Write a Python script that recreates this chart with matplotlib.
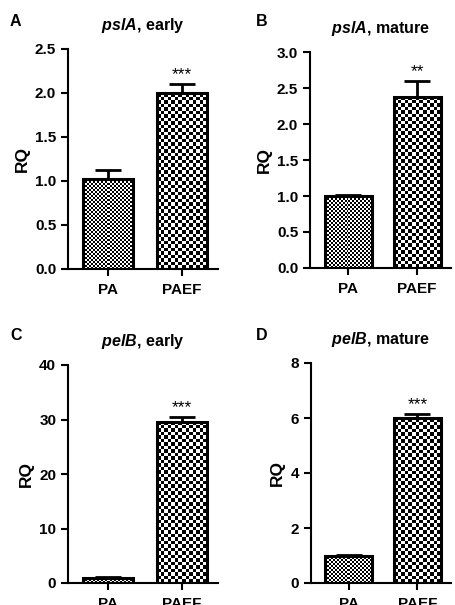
import numpy as np
import matplotlib
matplotlib.use("Agg")
import matplotlib.pyplot as plt

plt.rcParams['font.family'] = ['Liberation Sans', 'DejaVu Sans']
plt.rcParams['mathtext.fontset'] = 'custom'
plt.rcParams['mathtext.it'] = 'Liberation Sans:italic:bold'
plt.rcParams['mathtext.rm'] = 'Liberation Sans:bold'

groups = ["PA", "PAEF"]

# panel data: RQ means and upper SEM
psla_early = [1.02, 2.00]
psla_early_err = [0.11, 0.10]
psla_mature = [1.00, 2.38]
psla_mature_err = [0.02, 0.22]
pelb_early = [1.00, 29.6]
pelb_early_err = [0.10, 0.80]
pelb_mature = [1.00, 6.00]
pelb_mature_err = [0.03, 0.13]

stars = ["***", "**", "***", "***"]
titles = [r"$\mathit{pslA{,}}\ \mathrm{early}$", r"$\mathit{pslA{,}}\ \mathrm{mature}$",
          r"$\mathit{pelB{,}}\ \mathrm{early}$", r"$\mathit{pelB}\mathrm{{,}\ mature}$"]
letters = ["A", "B", "C", "D"]
ylims = [2.5, 3.0, 40, 8]
yticks = [np.arange(0, 2.51, 0.5), np.arange(0, 3.01, 0.5), [0, 10, 20, 30, 40], [0, 2, 4, 6, 8]]
ytick_fmt = ["%.1f", "%.1f", "%d", "%d"]

means = [psla_early, psla_mature, pelb_early, pelb_mature]
errs = [psla_early_err, psla_mature_err, pelb_early_err, pelb_mature_err]

W, H = 456, 605
fig = plt.figure(figsize=(W / 100, H / 100), dpi=100)

# axes rectangles in pixels: left, right, top, bottom
boxes = [(68, 218, 49, 269), (310, 451, 52, 268), (68, 218, 365, 583), (311, 451, 363, 583)]
letter_pos = [(10, 21), (256, 21), (10, 336), (256, 336)]
cell_px = [2.0, 3.5]


def checker_fill(ax, bar, cell):
    x0, y0 = bar.get_x(), bar.get_y()
    x1, y1 = x0 + bar.get_width(), y0 + bar.get_height()
    p0 = ax.transData.transform((x0, y0))
    p1 = ax.transData.transform((x1, y1))
    nx = max(1, int(round(abs(p1[0] - p0[0]) / cell)))
    ny = max(1, int(round(abs(p1[1] - p0[1]) / cell)))
    ii, jj = np.indices((ny, nx))
    img = ((ii + jj) % 2).astype(float)
    im = ax.imshow(img, extent=(x0, x1, y0, y1), cmap="gray", vmin=0, vmax=1,
                   interpolation="nearest", aspect="auto", zorder=2)
    im.set_clip_path(bar)


for k in range(4):
    l, r, t, b = boxes[k]
    ax = fig.add_axes([l / W, 1 - b / H, (r - l) / W, (b - t) / H])
    ax.set_xlim(-0.55, 1.49)
    ax.set_ylim(0, ylims[k])
    x = np.arange(len(groups))
    bars = ax.bar(x, means[k], width=0.68, facecolor="none", edgecolor="black",
                  linewidth=2.2, zorder=3)
    for i, bar in enumerate(bars):
        checker_fill(ax, bar, cell_px[i])
    ax.errorbar(x, means[k], yerr=[[0, 0], errs[k]], fmt="none", ecolor="black",
                elinewidth=2, capsize=9.5, capthick=2, zorder=4)
    ax.text(1, means[k][1] + errs[k][1] + ylims[k] * 0.01, stars[k],
            ha="center", va="bottom", fontsize=12.5)

    for s in ["top", "right"]:
        ax.spines[s].set_visible(False)
    for s in ["left", "bottom"]:
        ax.spines[s].set_linewidth(1.5)
    ax.set_yticks(yticks[k])
    ax.set_yticklabels([ytick_fmt[k] % v for v in yticks[k]], fontsize=11, fontweight="bold")
    ax.set_xticks(x)
    ax.set_xticklabels(groups, fontsize=11, fontweight="bold")
    ax.tick_params(width=1.5, length=5)
    ax.tick_params(axis="x", pad=5)
    ax.set_ylabel("RQ", fontsize=12.5, fontweight="bold", labelpad=4)
    ax.set_title(titles[k], fontsize=11.5, fontweight="bold", pad=14)
    ax.set_xlim(-0.55, 1.49)

    lx, ly = letter_pos[k]
    fig.text(lx / W, 1 - ly / H, letters[k], fontsize=11.5, fontweight="bold",
             ha="left", va="center")

fig.savefig("out.png", dpi=100)
